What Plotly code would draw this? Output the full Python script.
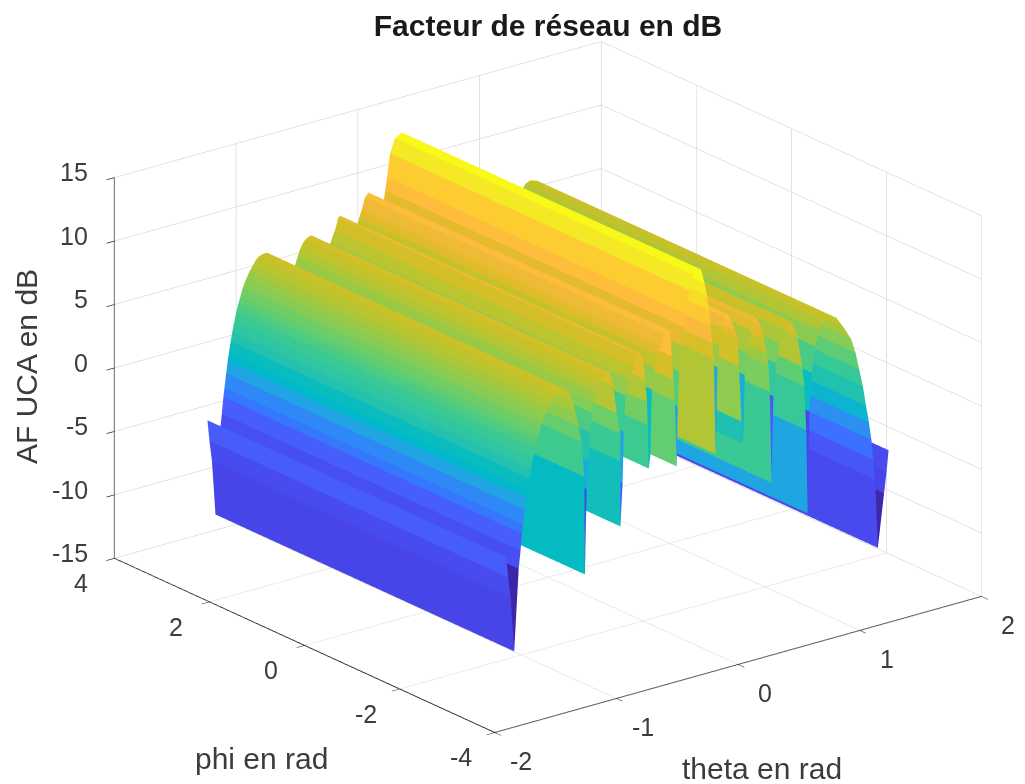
import numpy as np
import plotly.graph_objects as go

title_text = "Facteur de réseau en dB"
x_title = "theta en rad"
y_title = "phi en rad"
z_title = "AF UCA en dB"
x_ticks = [-2, -1, 0, 1, 2]
y_ticks = [-4, -2, 0, 2, 4]
z_ticks = [-15, -10, -5, 0, 5, 10, 15]

phi_ends = [-3.1416, 3.1416]

theta_rad = [
    -1.571, -1.555, -1.534, -1.505,
    -1.468, -1.453, -1.44, -1.431, -1.417, -1.405, -1.395, -1.38, -1.367, -1.35, -1.334, -1.318, -1.301,
    -1.28, -1.252, -1.225, -1.198, -1.17, -1.142, -1.11, -1.082, -1.05, -1.035, -1.019, -0.998, -0.977, -0.953, -0.928, -0.924,
    -0.91, -0.895, -0.88, -0.868, -0.85, -0.83, -0.812, -0.79, -0.765, -0.72, -0.69, -0.662, -0.634, -0.633, -0.632,
    -0.614, -0.605, -0.592, -0.56, -0.524, -0.495, -0.48, -0.45, -0.427, -0.414, -0.408, -0.40,
    -0.386, -0.375, -0.35, -0.325, -0.303, -0.276, -0.248, -0.225, -0.21, -0.196, -0.185, -0.17,
    -0.16, -0.15, -0.13, -0.111, -0.095, -0.07, -0.03, 0.026, 0.037, 0.06, 0.08, 0.095, 0.109, 0.125, 0.136, 0.15,
    0.165, 0.18, 0.20, 0.225, 0.247, 0.28, 0.31, 0.329, 0.342, 0.363, 0.375,
    0.39, 0.41, 0.44, 0.46, 0.48, 0.52, 0.549, 0.57, 0.585, 0.595, 0.61,
    0.625, 0.65, 0.68, 0.72, 0.77, 0.82, 0.862, 0.878, 0.895, 0.906,
    0.92, 0.94, 0.97, 1.0, 1.04, 1.08, 1.14, 1.2, 1.263, 1.3, 1.33, 1.36, 1.386, 1.41, 1.43, 1.445, 1.46, 1.483,
    1.534, 1.555, 1.571,
]
af_db = [
    -3.8, -5.45, -7.1, -11.4,
    -5.0, -3.6, -2.3, -1.6, -0.5, 0.4, 1.0, 1.9, 2.6, 3.4, 4.1, 4.7, 5.2,
    5.9, 6.5, 7.0, 7.4, 7.8, 8.0, 8.1, 8.1, 7.7, 7.3, 6.9, 6.0, 4.9, 3.6, 0.8, -6.9,
    -0.2, 2.0, 4.2, 5.7, 6.5, 7.1, 7.6, 8.0, 8.3, 8.5, 7.3, 5.1, 3.4, 1.25, -3.9,
    -0.5, 3.5, 6.3, 7.5, 8.35, 9.3, 9.4, 8.9, 7.1, 5.3, 3.5, 0.04,
    1.0, 6.2, 7.8, 8.8, 9.4, 10.3, 10.6, 10.4, 8.4, 6.5, 4.8, -0.4,
    4.3, 7.0, 9.0, 10.4, 11.4, 13.2, 14.3, 14.6, 14.3, 13.4, 12.4, 11.2, 9.9, 8.5, 7.2, -0.3,
    6.5, 8.2, 9.5, 10.3, 10.5, 9.8, 9.0, 8.3, 6.1, 1.7, -0.07,
    5.3, 7.0, 8.7, 9.3, 9.6, 8.8, 7.7, 6.5, 5.5, 3.4, -3.8,
    3.0, 5.5, 7.0, 8.0, 8.5, 7.2, 4.7, 3.1, -0.4, -7.0,
    1.0, 4.0, 6.0, 7.2, 7.8, 8.0, 7.8, 6.9, 5.8, 4.6, 3.2, 1.8, 0.2, -1.2, -2.6, -4.2, -5.8, -11.26,
    -7.1, -5.45, -3.8,
]

# reference colour stops: level in dB -> position along the colormap
colour_db = [-11.5, -9.0, -7.2, -5.0, -3.0, -1.0, 0.5, 14.6]
colour_pos = [0.0, 0.05, 0.105, 0.13, 0.20, 0.33, 0.47, 1.0]

parula = [
    (.2422, .1504, .6603), (.2504, .1650, .7076), (.2578, .1818, .7511), (.2647, .1978, .7952), (.2706, .2147, .8364), (.2751, .2342, .8710),
    (.2783, .2559, .8991), (.2803, .2782, .9221), (.2813, .3006, .9414), (.2810, .3228, .9579), (.2795, .3447, .9717), (.2760, .3667, .9829),
    (.2699, .3892, .9906), (.2602, .4123, .9952), (.2440, .4358, .9988), (.2206, .4603, .9973), (.1963, .4847, .9892), (.1834, .5074, .9798),
    (.1786, .5289, .9682), (.1764, .5499, .9520), (.1687, .5703, .9359), (.1540, .5902, .9218), (.1460, .6091, .9079), (.1380, .6276, .8973),
    (.1248, .6459, .8883), (.1113, .6635, .8763), (.0952, .6798, .8598), (.0689, .6948, .8394), (.0297, .7082, .8163), (.0036, .7203, .7917),
    (.0067, .7312, .7660), (.0433, .7411, .7394), (.0964, .7500, .7120), (.1408, .7584, .6842), (.1717, .7670, .6554), (.1938, .7758, .6251),
    (.2161, .7843, .5923), (.2470, .7918, .5567), (.2906, .7973, .5188), (.3406, .8008, .4789), (.3909, .8029, .4354), (.4456, .8024, .3909),
    (.5044, .7993, .3480), (.5616, .7942, .3045), (.6174, .7876, .2612), (.6720, .7793, .2227), (.7242, .7698, .1910), (.7738, .7598, .1646),
    (.8203, .7498, .1535), (.8634, .7406, .1596), (.9035, .7330, .1774), (.9393, .7288, .2100), (.9728, .7298, .2394), (.9956, .7434, .2371),
    (.9970, .7659, .2199), (.9952, .7861, .1967), (.9892, .8135, .1816), (.9786, .8386, .1649), (.9676, .8639, .1443), (.9610, .8890, .1537),
    (.9597, .9135, .1423), (.9628, .9373, .1265), (.9691, .9606, .1064), (.9769, .9839, .0805),
]

cmin, cmax = colour_db[0], colour_db[-1]
cm_pos = np.linspace(0, 1, len(parula))
cm_db = np.interp(cm_pos, colour_pos, colour_db)
colorscale = [[float((d - cmin) / (cmax - cmin)),
               f"rgb({round(r*255)},{round(g*255)},{round(b*255)})"]
              for d, (r, g, b) in zip(cm_db, parula)]
colorscale[0][0] = 0.0
colorscale[-1][0] = 1.0

n = len(theta_rad)
assert n == len(af_db)
x = np.array(theta_rad * 2)
y = np.repeat(phi_ends, n)
z = np.array(af_db * 2)
i, j, k, cell = [], [], [], []
for a in range(n - 1):
    i += [a, a + 1]
    j += [a + 1, n + a + 1]
    k += [n + a, n + a]
    cell += [af_db[a], af_db[a]]

fig = go.Figure(go.Mesh3d(
    x=x, y=y, z=z, i=i, j=j, k=k,
    intensity=cell, intensitymode="cell",
    colorscale=colorscale, cmin=cmin, cmax=cmax, showscale=False,
    flatshading=True, hoverinfo="skip",
    lighting=dict(ambient=1, diffuse=0, specular=0, fresnel=0, roughness=1),
))

FONT = "Liberation Sans, Arial, sans-serif"
INK = "#3c3c3c"
tick_font = dict(family=FONT, size=25, color=INK)


def axis(rng, ticks):
    return dict(
        range=rng, tickvals=ticks, tickmode="array", title=dict(text=""), showticklabels=False,
        showbackground=False, showgrid=True, gridcolor="#d9d9d9", gridwidth=1.5,
        zeroline=False, showline=True, linecolor="#262626", linewidth=2,
        ticks="outside", ticklen=10, tickcolor="#262626", tickwidth=1.5,
        showspikes=False, autorange=False,
    )


def tick_note(px, py, pz, text, xs, ys, anchor="center"):
    return dict(x=px, y=py, z=pz, text=text, showarrow=False, font=tick_font,
                xanchor=anchor, yanchor="middle", xshift=xs, yshift=ys)


tick_notes = (
    [tick_note(t, -4, -15, str(t), 27, -29) for t in x_ticks]
    + [tick_note(-2, t, -15, str(t), -33, -25) for t in y_ticks]
    + [tick_note(-2, 4, t, str(t), -24, 5, "right") for t in z_ticks]
)

W, H, PAGE = 1017, 776, 8  # the page's own margin offsets the figure by 8 px
ex, ey, ez = -0.575, -0.736, 0.358
scale = 1.205
box = 1.63
label_font = dict(family=FONT, size=30, color=INK)
fig.update_layout(
    width=W, height=H, paper_bgcolor="white", showlegend=False,
    margin=dict(l=0, r=0, t=0, b=0),
    title=dict(text=f"<b>{title_text}</b>", x=(548 - PAGE) / W, xanchor="center", y=1 - (25 - PAGE) / H, yanchor="middle",
               font=dict(family=FONT, size=30, color="#1a1a1a")),
    scene=dict(
        domain=dict(x=[0.0694, 0.992], y=[0.0237, 1]),
        xaxis=axis([-2, 2], x_ticks),
        yaxis=axis([-4, 4], y_ticks),
        zaxis=axis([-15, 15], z_ticks),
        aspectmode="manual", aspectratio=dict(x=box, y=box, z=0.66 * box),
        camera=dict(eye=dict(x=ex * scale, y=ey * scale, z=ez * scale),
                    center=dict(x=0, y=0, z=0), up=dict(x=0, y=0, z=1),
                    projection=dict(type="orthographic")),
        annotations=tick_notes,
    ),
    annotations=[
        dict(text=x_title, x=(762 - PAGE) / W, y=1 - (768 - PAGE) / H, xref="paper", yref="paper", showarrow=False,
             font=label_font, xanchor="center", yanchor="middle"),
        dict(text=y_title, x=(261 - PAGE) / W, y=1 - (758 - PAGE) / H, xref="paper", yref="paper", showarrow=False,
             font=label_font, xanchor="center", yanchor="middle"),
        dict(text=z_title, x=(26 - PAGE) / W, y=1 - (367 - PAGE) / H, xref="paper", yref="paper", showarrow=False,
             font=label_font, textangle=-90, xanchor="center", yanchor="middle"),
    ],
)
fig.write_html("out.html")
